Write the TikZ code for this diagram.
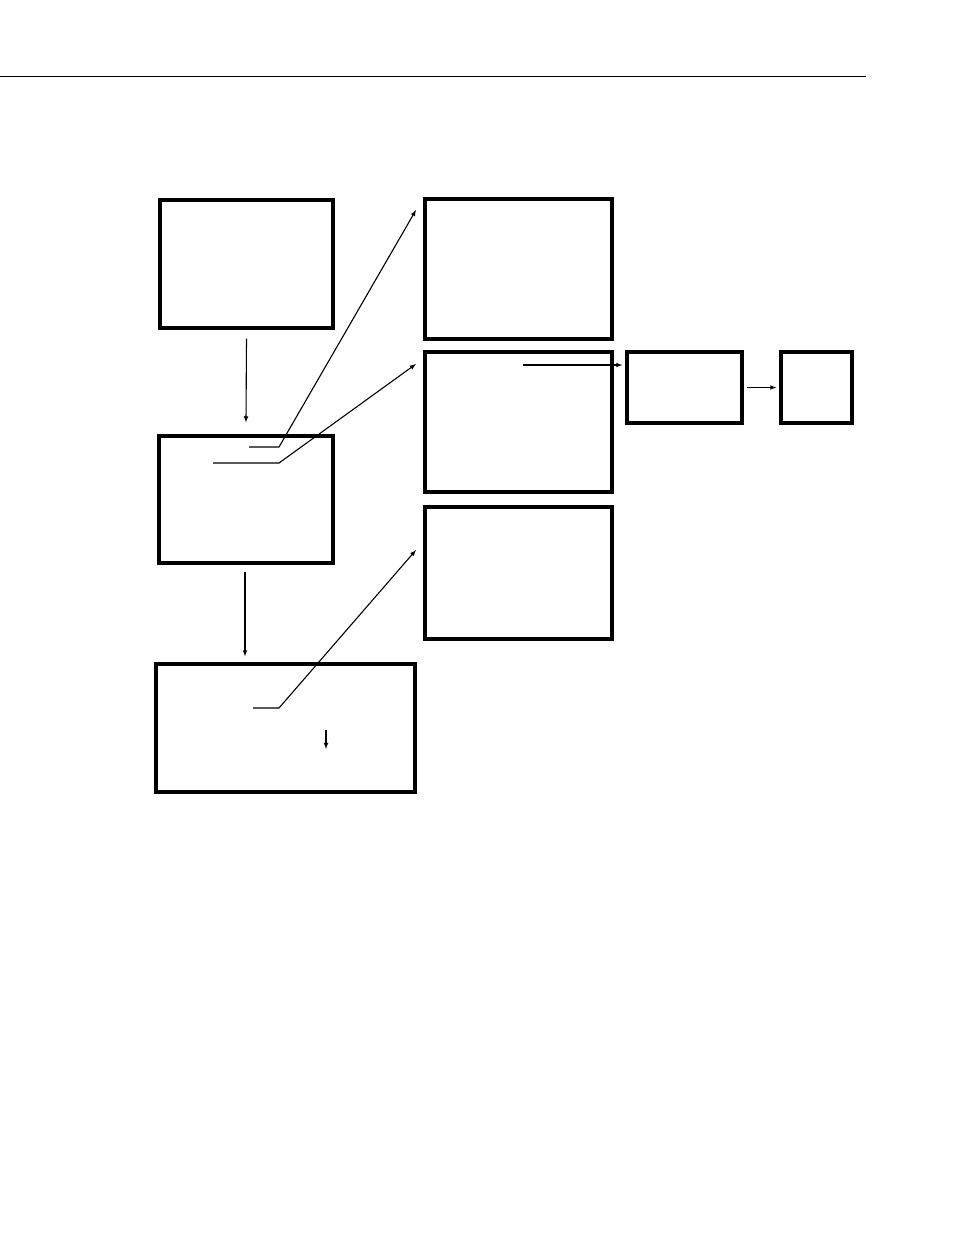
\documentclass[tikz,border=0pt]{standalone}
\usetikzlibrary{arrows}

\tikzset{blockbox/.style={draw,line width=3.3pt,minimum width=#1},
  thinarrow/.style={-latex,line width=1.1pt}}

\begin{document}
\begin{tikzpicture}[x=1pt,y=-1pt]%
\useasboundingbox (0,0) rectangle (954,1235);%
\draw[line width=0.9pt] (0,76) -- (866,76);%
\node [blockbox=173pt,minimum height=128pt] (start) at (246.5,264) {};%
\node [blockbox=174pt,minimum height=127pt] (sort) at (246,499.5) {};%
\node [blockbox=259pt,minimum height=128pt] (merge) at (285.5,728) {};%
\node [blockbox=187pt,minimum height=140pt] (upper) at (518.5,269) {};%
\node [blockbox=187pt,minimum height=140pt] (middle) at (518.5,422) {};%
\node [blockbox=187pt,minimum height=132pt] (lower) at (518.5,573) {};%
\node [blockbox=115pt,minimum height=71pt] (pass) at (684.5,387.5) {};%
\node [blockbox=71pt,minimum height=71pt] (out) at (816.5,387.5) {};%
\coordinate (upperin) at (416,210);%
\coordinate (middlein) at (416,364);%
\coordinate (lowerin) at (416,550);%
\coordinate (sortA) at (249,447);%
\coordinate (sortB) at (213,463);%
\coordinate (mergeA) at (253,708);%
\coordinate (middleA) at (523,365);%
\coordinate (mergedrop) at (326,730);%
\draw[thinarrow] (start.south)+(0,9) -- ([yshift=12pt]sort.north);%
\draw[thinarrow] ([xshift=-1pt,yshift=-7pt]sort.south) -- ([xshift=-1pt,yshift=6pt]merge.north -| sort.south);%
\draw[thinarrow] (sortA) -- (279,447) -- (upperin);%
\draw[thinarrow] (sortB) -- (279,463) -- (middlein);%
\draw[thinarrow] (mergeA) -- (279,708) -- (lowerin);%
\draw[thinarrow] (middleA) -- ([xshift=-3pt]middleA -| pass.west);%
\draw[thinarrow] ([xshift=3pt]pass.east) -- ([xshift=-3pt]pass.east -| out.west);%
\draw[thinarrow] (mergedrop) -- +(0,19);%
\end{tikzpicture}
\end{document}
